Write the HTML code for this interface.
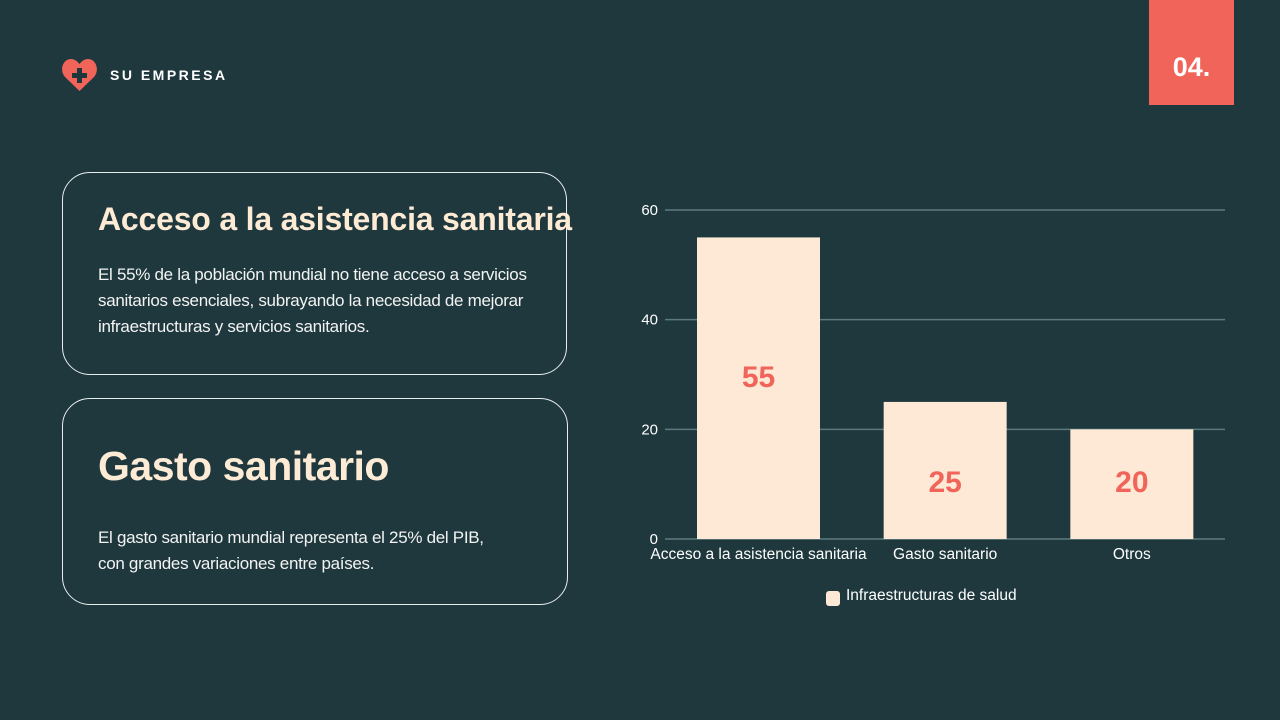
<!DOCTYPE html>
<html><head><meta charset="utf-8"><style>
body{margin:0;width:1280px;height:720px;overflow:hidden;background:#1e383d;font-family:"Liberation Sans",sans-serif;position:relative}
.card{position:absolute;border:1.5px solid #e8eef0;border-radius:28px;box-sizing:border-box}
.h{position:absolute;color:#fdebd6;font-weight:bold;letter-spacing:-0.5px;white-space:nowrap}
.p{position:absolute;color:#f3f3f3;font-size:17px;line-height:26px;letter-spacing:-0.3px;white-space:nowrap}
</style></head><body>
<svg style="position:absolute;left:61px;top:58px" width="37" height="34" viewBox="0 0 37 34"><path d="M18.5 33 L4 19 C-2 12 2 1 10 1 C14 1 17 4 18.5 6 C20 4 23 1 27 1 C35 1 39 12 33 19 Z" fill="#f0645a"/><path d="M16 10h5v5h5v5h-5v5h-5v-5h-5v-5h5z" fill="#1d373c"/></svg>
<div style="position:absolute;left:110px;top:67px;color:#fff;font-size:14px;font-weight:bold;letter-spacing:2.5px">SU EMPRESA</div>
<div style="position:absolute;left:1149px;top:0;width:85px;height:105px;background:#f0645a;color:#fff;font-size:27px;font-weight:bold;text-align:center;line-height:134px">04.</div>

<div class="card" style="left:62px;top:172px;width:505px;height:203px"></div>
<div class="h" style="left:98px;top:201px;font-size:32px;letter-spacing:-0.2px">Acceso a la asistencia sanitaria</div>
<div class="p" style="left:98px;top:262px">El 55% de la población mundial no tiene acceso a servicios<br>sanitarios esenciales, subrayando la necesidad de mejorar<br>infraestructuras y servicios sanitarios.</div>

<div class="card" style="left:62px;top:398px;width:506px;height:207px"></div>
<div class="h" style="left:98px;top:443px;font-size:41px">Gasto sanitario</div>
<div class="p" style="left:98px;top:525px">El gasto sanitario mundial representa el 25% del PIB,<br>con grandes variaciones entre países.</div>

<svg id="chart" style="position:absolute;left:0;top:0" width="1280" height="720"></svg>
<script>
const categories=["Acceso a la asistencia sanitaria","Gasto sanitario","Otros"];
const values=[55,25,20];
const ticks=[0,20,40,60];
const seriesName="Infraestructuras de salud";
const NS="http://www.w3.org/2000/svg",svg=document.getElementById("chart");
const x0=665,x1=1225,y0=539,yTop=210,vmax=60;
const y=v=>y0-(y0-yTop)*v/vmax;
const band=(x1-x0)/categories.length;
function mk(t,a,txt){const e=document.createElementNS(NS,t);for(const k in a)e.setAttribute(k,a[k]);if(txt!=null)e.textContent=txt;svg.appendChild(e);return e;}
ticks.forEach(t=>{
 const l=mk("line",{x1:x0,x2:x1,y1:y(t),y2:y(t),stroke:"#5d7a7e","stroke-width":1.5});
 
 
 const tx=mk("text",{x:658,y:y(t)+5,fill:"#fff","font-size":15,"text-anchor":"end","font-family":"Liberation Sans"},t);
 
 
});
categories.forEach((c,i)=>{
 const bx=x0+band*i+32,bw=123;
 const r=mk("rect",{x:bx,y:y(values[i]),width:bw,height:y0-y(values[i]),fill:"#fde9d5"});
 
 
 const bh=y0-y(values[i]);
 const ly=bh>200?(y(values[i])+y0)/2-1:y0-47;
 const v=mk("text",{x:bx+bw/2,y:ly,fill:"#f0645a","font-size":30,"font-weight":"bold","text-anchor":"middle","font-family":"Liberation Sans"},values[i]);
 
 
 const cl=mk("text",{x:bx+bw/2,y:559,fill:"#fff","font-size":15.5,"text-anchor":"middle","font-family":"Liberation Sans"},c);
 
 
});
const sw=mk("rect",{x:826,y:591,width:14,height:15,rx:3,fill:"#fde9d5"});


const lt=mk("text",{x:846,y:600,fill:"#fff","font-size":15.5,"font-family":"Liberation Sans"},seriesName);


</script>
</body></html>
